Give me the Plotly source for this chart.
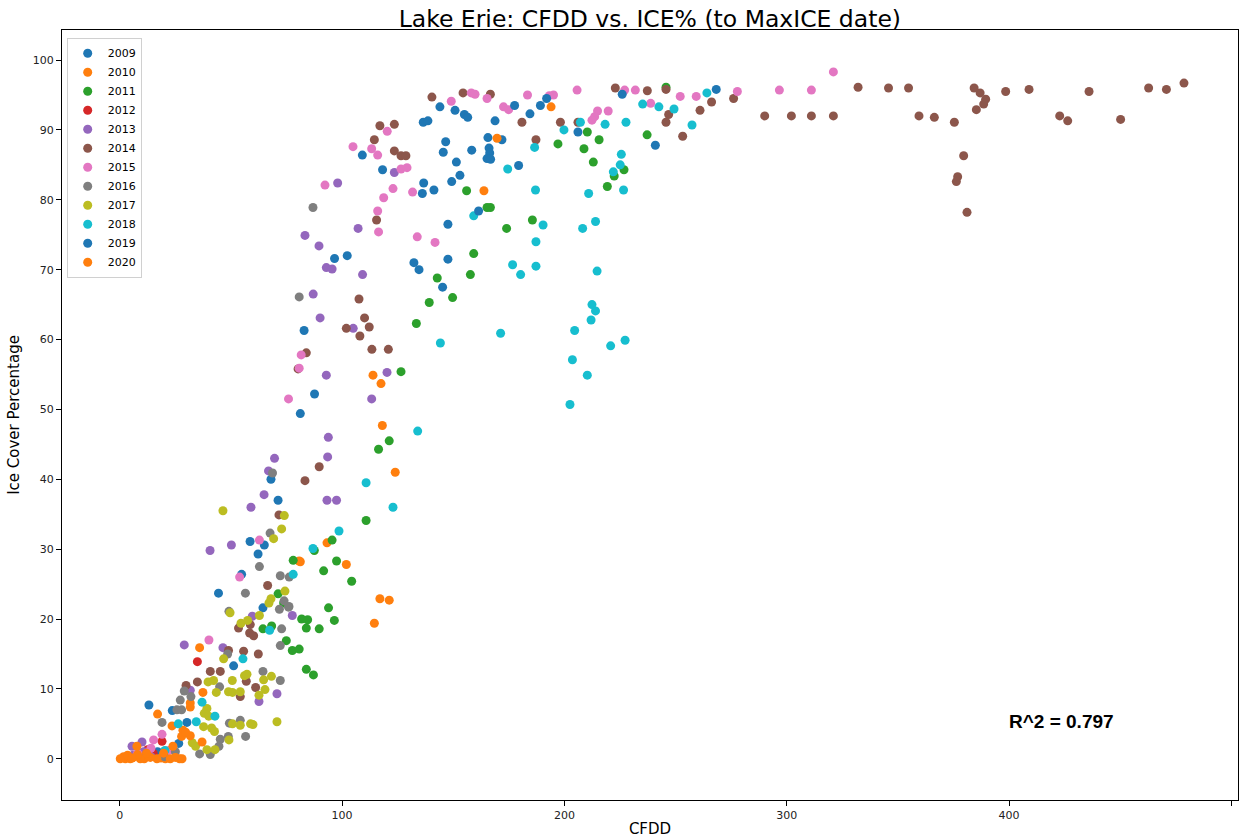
import plotly.graph_objects as go

years = ["2009", "2010", "2011", "2012", "2013", "2014", "2015", "2016", "2017", "2018", "2019", "2020"]
colors = ["#1f77b4", "#ff7f0e", "#2ca02c", "#d62728", "#9467bd", "#8c564b",
          "#e377c2", "#7f7f7f", "#bcbd22", "#17becf", "#1f77b4", "#ff7f0e"]

cfdd_2009 = [109.1, 118.2, 96.6, 102.3, 82.9, 87.6, 81.2, 68.0, 71.2, 58.6, 65.0, 62.2, 54.8, 44.4, 64.4, 51.2, 13.1, 23.6, 30.2, 26.5, 12, 20, 17]
ice_2009 = [86.4, 84.3, 71.6, 72.0, 61.3, 52.2, 49.4, 40.0, 37.0, 31.1, 30.6, 29.3, 26.4, 23.7, 21.6, 13.3, 7.7, 6.9, 5.2, 2.2, 0.3, 0.5, 1.0]

cfdd_2010 = [163.8, 113.9, 117.5, 118.1, 123.9, 93.2, 81.2, 101.9, 117.0, 121.2, 114.5, 80.7, 35.9, 37.4, 17.0, 31.7, 23.5, 28.4, 2.5, 6, 11, 14.5, 18.5, 20.5]
ice_2010 = [81.3, 54.9, 53.7, 47.7, 41.0, 30.9, 28.2, 27.8, 22.9, 22.7, 19.4, 28.3, 15.9, 9.5, 6.4, 8.0, 4.7, 4.1, 0.0, 0.2, 0.0, 0.4, 0.1, 0.0]

cfdd_2011 = [245.7, 237.2, 210.3, 215.6, 197.1, 208.8, 213.0, 222.4, 226.8, 219.3, 166.7, 185.6, 174.0, 159.2, 157.7, 149.7, 156.0, 165.2, 142.8, 139.2, 133.4, 126.5, 121.2, 116.4, 110.8, 95.5, 87.5, 97.5, 91.7, 104.3, 93.9, 96.5, 81.8, 84.5, 83.9, 89.7, 78.0, 71.2, 73.7, 68.3, 64.4, 74.9, 77.6, 80.7, 83.9, 87.1]
ice_2011 = [96.1, 89.3, 89.7, 88.6, 88.0, 87.3, 85.4, 83.4, 84.3, 81.9, 78.9, 77.1, 75.9, 72.3, 69.3, 66.0, 81.3, 78.9, 68.8, 65.3, 62.3, 55.4, 45.5, 44.3, 34.1, 31.3, 29.8, 28.3, 26.9, 25.4, 21.6, 19.8, 20.0, 19.9, 18.7, 18.6, 28.4, 23.6, 22.3, 19.0, 18.6, 16.9, 15.5, 15.7, 12.8, 12.0]

cfdd_2012 = [34.9, 19.0, 12.5, 8, 15, 4]
ice_2012 = [13.9, 2.5, 1.3, 0.5, 0.8, 0.3]

cfdd_2013 = [123.5, 98.0, 83.3, 107.2, 89.6, 92.9, 95.5, 109.2, 87.0, 90.1, 105.0, 92.9, 120.2, 113.3, 93.8, 93.5, 93.2, 97.5, 69.6, 66.9, 64.9, 59.0, 50.2, 40.6, 59.6, 77.6, 29.0, 46.4, 31.7, 70.7, 62.6, 10.0, 5.5, 10.7, 6, 14]
ice_2013 = [83.9, 82.4, 74.9, 75.9, 73.4, 70.3, 70.1, 69.3, 66.5, 63.1, 61.6, 54.9, 55.3, 51.5, 46.0, 43.2, 37.0, 37.0, 43.0, 41.2, 37.8, 36.0, 30.6, 29.8, 20.4, 20.5, 16.3, 15.9, 9.8, 9.3, 8.2, 2.4, 1.8, 1.0, 0.5, 0.3]

cfdd_2014 = [478.7, 470.8, 462.8, 450.2, 436.0, 426.4, 422.8, 409.0, 398.5, 389.5, 388.6, 387.0, 384.3, 385.3, 375.4, 379.6, 376.9, 376.3, 381.1, 332.1, 345.8, 354.8, 359.5, 366.4, 290.1, 302.1, 311.1, 321.0, 276.1, 266.2, 261.0, 253.2, 222.9, 237.3, 245.7, 246.9, 245.7, 180.9, 198.2, 206.1, 187.2, 140.4, 154.4, 166.7, 117.0, 123.5, 114.5, 123.5, 126.5, 128.7, 115.5, 107.6, 110.1, 112.2, 101.9, 108.0, 113.4, 120.8, 83.9, 80.2, 89.7, 83.3, 71.6, 66.5, 58.7, 53.4, 58.4, 60.2, 48.9, 55.7, 62.3, 40.7, 45.2, 34.9, 29.8, 56.9, 61.1, 54.2]
ice_2014 = [96.7, 95.8, 96.0, 91.5, 95.5, 91.3, 92.0, 95.8, 95.5, 94.4, 93.7, 95.3, 96.0, 92.9, 91.1, 86.3, 83.3, 82.6, 78.2, 96.1, 96.0, 96.0, 92.0, 91.8, 92.0, 92.0, 92.0, 92.0, 94.5, 94.0, 92.8, 89.1, 96.0, 95.6, 95.8, 92.2, 91.1, 91.1, 91.1, 91.1, 88.6, 94.7, 95.3, 95.1, 90.6, 90.8, 88.6, 87.0, 86.3, 86.3, 77.1, 65.8, 63.1, 61.8, 61.6, 60.5, 58.6, 58.6, 58.1, 55.8, 41.8, 39.8, 34.9, 24.8, 19.2, 18.7, 18.0, 17.6, 15.5, 15.4, 15.0, 12.5, 12.5, 11.0, 10.5, 11.1, 10.2, 8.9]

cfdd_2015 = [321.0, 311.1, 296.7, 277.8, 259.3, 252.1, 227.1, 231.9, 238.8, 205.7, 195.1, 193.2, 183.4, 172.6, 174.9, 214.9, 213.6, 212.4, 219.7, 158.1, 159.8, 165.2, 149.1, 120.3, 104.9, 113.3, 116.0, 126.5, 129.2, 122.9, 131.7, 118.7, 116.0, 116.4, 92.3, 133.8, 141.8, 81.6, 80.7, 75.9, 62.8, 53.9, 40.1, 19.0, 15.2, 8, 14, 22]
ice_2015 = [98.3, 95.7, 95.7, 95.5, 94.8, 94.8, 95.7, 95.7, 93.8, 95.7, 95.0, 94.9, 95.0, 93.3, 92.9, 92.7, 91.9, 91.4, 92.7, 95.3, 95.1, 94.5, 94.1, 89.8, 87.6, 87.3, 86.4, 84.4, 84.6, 81.6, 81.1, 80.3, 78.4, 75.4, 82.1, 74.7, 73.9, 57.8, 55.9, 51.5, 31.3, 26.0, 17.0, 3.5, 2.7, 0.8, 1.5, 1.2]

cfdd_2016 = [86.9, 80.7, 68.7, 67.6, 62.8, 72.2, 76.2, 56.5, 73.9, 76.1, 71.8, 49.1, 75.9, 72.8, 72.2, 48.5, 64.4, 72.2, 44.9, 27.2, 29.0, 32.0, 25.7, 27.8, 19.0, 49.3, 54.2, 56.6, 48.8, 45.2, 44.6, 40.7, 35.9, 20, 25]
ice_2016 = [78.9, 66.1, 40.9, 32.3, 27.5, 26.2, 26.0, 23.7, 22.6, 21.8, 21.4, 21.1, 21.7, 18.6, 16.2, 15.0, 12.5, 11.2, 10.3, 8.4, 9.7, 8.9, 7.0, 7.0, 5.2, 5.1, 5.5, 3.2, 3.2, 2.8, 1.8, 0.6, 0.7, 0.3, 1.0]

cfdd_2017 = [46.4, 74.0, 72.8, 69.2, 74.3, 68.0, 67.1, 49.6, 62.8, 57.5, 54.5, 46.7, 39.7, 42.2, 50.6, 56.1, 57.2, 64.7, 68.2, 65.3, 43.4, 48.9, 50.7, 54.2, 62.6, 39.2, 38.0, 40.0, 37.7, 41.3, 42.6, 50.7, 54.2, 58.8, 59.9, 70.7, 49.1, 42.8, 39.2, 32.6, 34.1]
ice_2017 = [35.5, 34.8, 32.9, 31.5, 24.0, 22.9, 22.3, 20.9, 20.5, 19.8, 19.4, 14.3, 11.0, 11.2, 11.2, 11.9, 12.1, 11.3, 11.8, 9.9, 9.5, 9.6, 9.5, 9.6, 9.1, 7.2, 6.5, 6.1, 4.6, 4.4, 3.9, 5.0, 4.8, 5.0, 4.9, 5.3, 2.7, 1.3, 1.3, 2.3, 1.8]

cfdd_2018 = [264.1, 257.4, 235.2, 242.5, 249.3, 207.2, 199.8, 218.3, 227.7, 186.6, 225.6, 225.1, 222.0, 226.6, 210.9, 187.0, 174.5, 190.4, 208.2, 214.0, 187.2, 159.2, 176.7, 180.3, 187.2, 214.7, 212.4, 214.0, 212.0, 204.6, 171.3, 227.3, 220.8, 203.6, 210.3, 202.5, 144.2, 134.0, 110.8, 122.9, 98.6, 86.9, 78.0, 67.4, 55.4, 37.0, 42.8, 34.4, 26.3, 20.3]
ice_2018 = [95.3, 90.7, 93.7, 93.3, 93.0, 91.1, 90.0, 90.8, 91.1, 87.5, 86.5, 85.0, 84.0, 81.4, 80.9, 81.4, 84.4, 76.4, 75.9, 76.9, 74.0, 77.7, 70.7, 69.3, 70.5, 69.8, 65.0, 64.1, 62.8, 61.3, 60.9, 59.9, 59.1, 57.1, 54.9, 50.7, 59.5, 46.9, 39.5, 36.0, 32.6, 30.1, 26.4, 18.4, 14.3, 8.1, 6.1, 5.3, 5.0, 1.2]

cfdd_2019 = [268.3, 226.0, 240.9, 192.0, 189.2, 177.6, 184.5, 206.1, 179.4, 171.9, 168.8, 144.0, 150.8, 155.0, 156.5, 136.5, 138.6, 146.6, 145.5, 158.3, 165.6, 166.1, 166.4, 165.2, 166.8, 151.4, 153.0, 149.3, 136.7, 136.1, 141.3, 147.6, 161.4, 147.6, 145.2, 132.3, 134.6]
ice_2019 = [95.8, 95.1, 87.8, 94.5, 93.5, 93.5, 92.3, 89.7, 84.9, 88.6, 91.3, 93.3, 92.8, 92.2, 91.8, 91.1, 91.3, 88.3, 86.8, 87.1, 88.9, 87.4, 86.7, 85.9, 85.8, 85.4, 83.5, 82.6, 82.4, 80.9, 81.4, 76.5, 78.4, 71.5, 67.5, 71.0, 70.0]

cfdd_2020 = [194.0, 169.7, 31.7, 37.0, 31.7, 27.8, 29.6, 23.9, 19.7, 26.9, 22.7, 16.7, 13.7, 7.7, 1.7, 0.2, 4.7, 9.2, 3.5, 8, 12, 5.5, 25, 28]
ice_2020 = [93.3, 88.8, 7.4, 2.4, 3.3, 3.2, 3.8, 1.8, 0.8, 0.0, 0.0, 0.0, 0.2, 1.8, 0.3, 0.0, 0.0, 0.0, 0.5, 0.6, 0.8, 0.1, 0.2, 0.0]

xs = [cfdd_2009, cfdd_2010, cfdd_2011, cfdd_2012, cfdd_2013, cfdd_2014,
      cfdd_2015, cfdd_2016, cfdd_2017, cfdd_2018, cfdd_2019, cfdd_2020]
ys = [ice_2009, ice_2010, ice_2011, ice_2012, ice_2013, ice_2014,
      ice_2015, ice_2016, ice_2017, ice_2018, ice_2019, ice_2020]

r2_text = "R^2 = 0.797"

fig = go.Figure()
for yr, c, x, y in zip(years, colors, xs, ys):
    fig.add_trace(go.Scatter(
        x=x, y=y, mode="markers", name=yr,
        marker=dict(color=c, size=9, line=dict(width=0)),
    ))

axis_common = dict(
    showline=True, linecolor="black", linewidth=1, mirror=True,
    ticks="outside", ticklen=5, tickcolor="black", showgrid=False, zeroline=False,
    tickfont=dict(family="DejaVu Sans", size=11, color="#222"),
)

fig.update_layout(
    width=1239, height=838,
    margin=dict(l=62, r=1, t=30, b=38),
    paper_bgcolor="white", plot_bgcolor="white",
    title=dict(text="Lake Erie: CFDD vs. ICE% (to MaxICE date)", x=0.5245, xanchor="center",
               y=0.977, yanchor="middle",
               font=dict(family="DejaVu Sans", size=23.5, color="black")),
    xaxis=dict(range=[-26, 503], tickvals=[0, 100, 200, 300, 400, 500],
               title=dict(text="CFDD", font=dict(family="DejaVu Sans", size=15, color="black"), standoff=4),
               **axis_common),
    yaxis=dict(range=[-5.9, 104.3], tickvals=list(range(0, 101, 10)),
               title=dict(text="Ice Cover Percentage", font=dict(family="DejaVu Sans", size=15, color="black"), standoff=9),
               **axis_common),
    legend=dict(x=0.004, y=0.99, xanchor="left", yanchor="top",
                bgcolor="white", bordercolor="#d0d0d0", borderwidth=1,
                font=dict(family="DejaVu Sans", size=11, color="black"),
                traceorder="normal", itemwidth=30),
    showlegend=True,
)

fig.add_annotation(x=399, y=5.3, xref="x", yref="y", text="<b>" + r2_text + "</b>",
                   showarrow=False, xanchor="left", yanchor="middle",
                   font=dict(family="Liberation Sans", size=19, color="black"))

fig.write_html("out.html")
